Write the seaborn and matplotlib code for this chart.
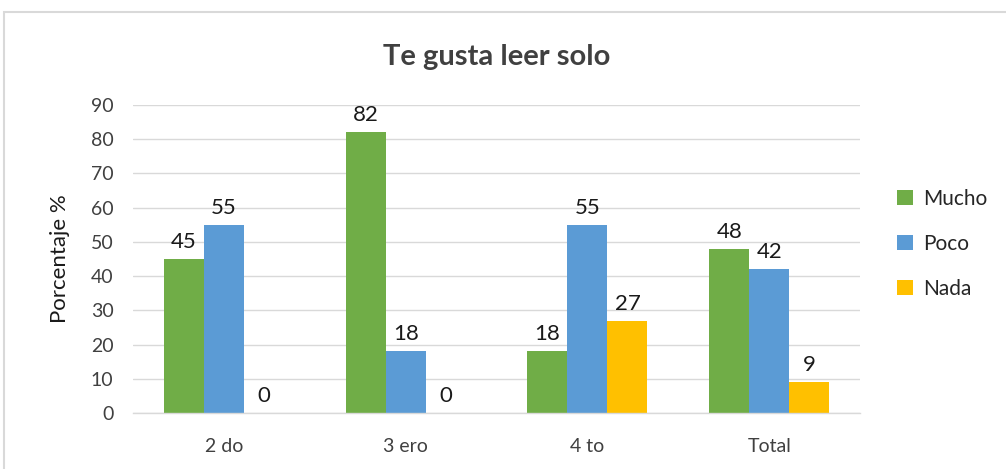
import pandas as pd
import numpy as np
import matplotlib.pyplot as plt
import seaborn as sns
from matplotlib.patches import Rectangle

# ==================== 数据 ====================
categorias = ['2 do', '3 ero', '4 to', 'Total']
series = ['Mucho', 'Poco', 'Nada']
mucho = [45, 82, 18, 48]
poco = [55, 18, 55, 42]
nada = [0, 0, 27, 9]
colores = ['#70AD47', '#5B9BD5', '#FFC000']

df = pd.DataFrame({
    'grado': categorias * 3,
    'serie': [s for s in series for _ in categorias],
    'valor': mucho + poco + nada,
})

sns.set_theme(style='white')
plt.rcParams['font.family'] = ['Lato', 'DejaVu Sans']

fig = plt.figure(figsize=(10.06, 4.69), dpi=100)
ax = fig.add_axes([0.1322, 0.1194, 0.7228, 0.6566])

sns.barplot(data=df, x='grado', y='valor', hue='serie', hue_order=series,
            palette=colores, width=0.66, gap=0, saturation=1, ax=ax,
            edgecolor='none', linewidth=0)

for cont in ax.containers:
    ax.bar_label(cont, fmt='%d', padding=5, fontsize=16, color='#1a1a1a')

ax.set_ylim(0, 90)
ax.set_xlim(-0.5, 3.5)
ax.set_yticks(np.arange(0, 91, 10))
ax.yaxis.grid(True, color='#D9D9D9', linewidth=1)
ax.set_axisbelow(True)
for s in ['top', 'right', 'left']:
    ax.spines[s].set_visible(False)
ax.spines['bottom'].set_color('#D9D9D9')
ax.spines['bottom'].set_linewidth(1)

ax.set_xticks(range(4))
ax.set_xticklabels(categorias)
ax.set_xticks([-0.5, 0.5, 1.5, 2.5, 3.5], minor=True)
ax.tick_params(axis='x', which='major', length=0, pad=18, labelsize=14, labelcolor='#404040')
ax.tick_params(axis='x', which='minor', length=6, color='#D9D9D9', width=1, direction='out')
ax.tick_params(axis='y', length=0, pad=14, labelsize=14, labelcolor='#404040')

ax.set_xlabel('')
ax.set_ylabel('Porcentaje %', fontsize=16, color='#1a1a1a', labelpad=15)
ax.set_title('Te gusta leer solo', fontsize=21, fontweight='bold', color='#404040', pad=29)

ax.legend(loc='center left', bbox_to_anchor=(1.025, 0.55), frameon=False,
          fontsize=15, handlelength=0.75, handleheight=0.75, labelspacing=1.2,
          handletextpad=0.5)

fig.add_artist(Rectangle((4 / 1006, -0.1), 1.1, 1 - 12 / 469 + 0.1,
                         transform=fig.transFigure, fill=False,
                         edgecolor='#D9D9D9', linewidth=1.5))

fig.savefig('out.png', dpi=100)
